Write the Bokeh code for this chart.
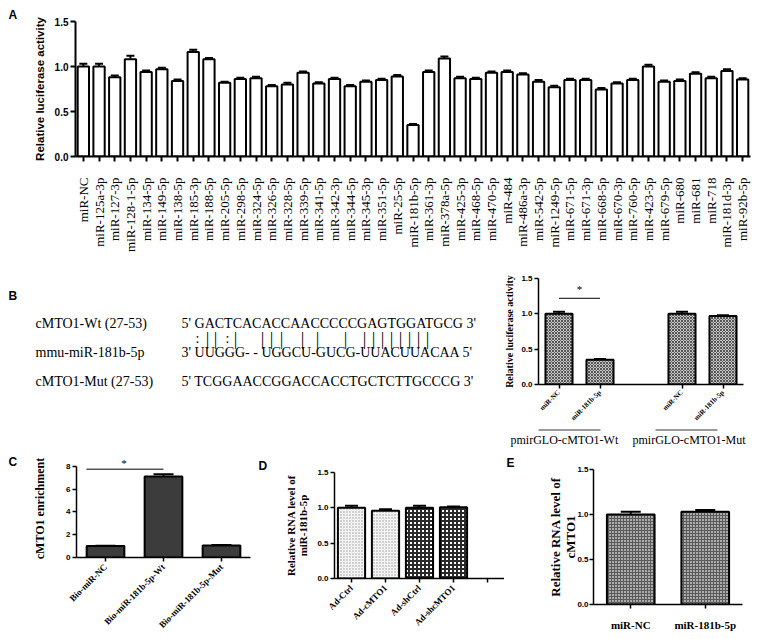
import math
from bokeh.plotting import figure
from bokeh.models import (ColumnDataSource, FactorRange, Range1d, FixedTicker,
                          PrintfTickFormatter, Whisker, TeeHead)
from bokeh.layouts import column, row
from bokeh.embed import file_html
from bokeh.resources import INLINE
from bokeh.core.properties import value
from bokeh.transform import dodge

# ---------------- data ----------------
labels_a = ["miR-NC", "miR-125a-3p", "miR-127-3p", "miR-128-1-5p", "miR-134-5p", "miR-149-5p",
            "miR-138-5p", "miR-185-3p", "miR-188-5p", "miR-205-5p", "miR-298-5p", "miR-324-5p",
            "miR-326-5p", "miR-328-5p", "miR-339-5p", "miR-341-5p", "miR-342-3p", "miR-344-5p",
            "miR-345-3p", "miR-351-5p", "miR-25-5p", "miR-181b-5p", "miR-361-3p", "miR-378a-5p",
            "miR-425-3p", "miR-468-5p", "miR-470-5p", "miR-484", "miR-486a-3p", "miR-542-5p",
            "miR-1249-5p", "miR-671-5p", "miR-671-3p", "miR-668-5p", "miR-670-3p", "miR-760-5p",
            "miR-423-5p", "miR-679-5p", "miR-680", "miR-681", "miR-718", "miR-181d-3p", "miR-92b-5p"]
values_a = [1.00, 1.00, 0.88, 1.08, 0.94, 0.97, 0.84, 1.16, 1.08, 0.82, 0.86, 0.87,
            0.78, 0.80, 0.93, 0.81, 0.86, 0.78, 0.83, 0.85, 0.89, 0.35, 0.94, 1.09,
            0.87, 0.86, 0.93, 0.94, 0.91, 0.83, 0.77, 0.85, 0.85, 0.745, 0.81, 0.85,
            1.00, 0.83, 0.84, 0.92, 0.87, 0.95, 0.855]
errors_a = [0.03, 0.03, 0.02, 0.04, 0.015, 0.015, 0.015, 0.025, 0.015, 0.01, 0.015, 0.015,
            0.015, 0.02, 0.015, 0.015, 0.015, 0.015, 0.015, 0.015, 0.015, 0.01, 0.015, 0.02,
            0.015, 0.015, 0.015, 0.015, 0.015, 0.02, 0.015, 0.015, 0.015, 0.015, 0.015, 0.015,
            0.02, 0.015, 0.015, 0.015, 0.015, 0.02, 0.015]

seq_names = ["cMTO1-Wt (27-53)", "mmu-miR-181b-5p", "cMTO1-Mut (27-53)"]
seq_texts = ["5' GACTCACACCAACCCCCGAGTGGATGCG 3'",
             "3' UUGGG- - UGGCU-GUCG-UUACUUACAA 5'",
             "5' TCGGAACCGGACCACCTGCTCTTGCCCG 3'"]
pair_symbols = [":", "|", "|", ":", "|", "|", "|", "|", "|", "|", "|",
                "|", "|", "|", "|", "|", "|", "|", "|"]

groups_b = ["Wt", "Mut"]
group_names_b = ["pmirGLO-cMTO1-Wt", "pmirGLO-cMTO1-Mut"]
treat_b = ["miR-NC", "miR-181b-5p"]
values_b = [1.00, 0.35, 1.00, 0.97]
errors_b = [0.03, 0.01, 0.03, 0.01]

cats_c = ["Bio-miR-NC", "Bio-miR-181b-5p-Wt", "Bio-miR-181b-5p-Mut"]
values_c = [1.00, 7.10, 1.05]
errors_c = [0.03, 0.20, 0.04]

cats_d = ["Ad-Ctrl", "Ad-cMTO1", "Ad-shCtrl", "Ad-shcMTO1"]
values_d = [1.00, 0.96, 1.00, 1.01]
errors_d = [0.03, 0.02, 0.03, 0.01]

cats_e = ["miR-NC", "miR-181b-5p"]
values_e = [1.00, 1.03]
errors_e = [0.03, 0.02]

# ---------------- layout / style ----------------
SANS = "Liberation Sans"
SERIF = "Liberation Serif"


def mkfig(xr, yr, w, h, l, r, t, b, axes=True, letter=None):
    kw = {}
    if not axes:
        kw = dict(x_axis_type=None, y_axis_type=None)
    if letter is None:
        kw["title"] = None
    p = figure(x_range=xr, y_range=yr, width=w, height=h, output_backend="svg",
               toolbar_location=None, min_border_left=l, min_border_right=r,
               min_border_top=t, min_border_bottom=b, **kw)
    p.grid.visible = False
    p.outline_line_color = None
    if letter is not None:
        p.title.text = letter
        p.title.align = "left"
        p.title.offset = -l
        p.title.standoff = 0
        p.title.text_font = SANS
        p.title.text_font_style = "bold"
        p.title.text_font_size = "12px"
        p.title.text_color = "black"
    return p


def style_axes(p, lw=1.5, tick_out=4):
    for ax in p.xaxis + p.yaxis:
        ax.axis_line_width = lw
        ax.axis_line_color = "black"
        ax.major_tick_line_width = lw
        ax.major_tick_line_color = "black"
        ax.major_tick_in = 0
        ax.major_tick_out = tick_out
        ax.minor_tick_line_color = None
        ax.major_label_text_color = "black"
        ax.axis_label_text_color = "black"


def style_y(p, label, lab_font, lab_style, lab_size, standoff, tick_size, ticks, fmt,
            tick_standoff=2):
    ax = p.yaxis[0]
    ax.ticker = FixedTicker(ticks=ticks)
    ax.formatter = PrintfTickFormatter(format=fmt)
    ax.axis_label = label
    ax.axis_label_text_font = lab_font
    ax.axis_label_text_font_style = lab_style
    ax.axis_label_text_font_size = lab_size
    ax.axis_label_text_line_height = 1.0
    ax.axis_label_standoff = standoff
    ax.major_label_text_font = SANS
    ax.major_label_text_font_style = "bold"
    ax.major_label_text_font_size = tick_size
    ax.major_label_standoff = tick_standoff


def style_x(p, size, style="bold", orient=None, standoff=4):
    ax = p.xaxis[0]
    if orient is not None:
        ax.major_label_orientation = orient
    ax.major_label_text_font = SERIF
    ax.major_label_text_font_style = style
    ax.major_label_text_font_size = size
    ax.major_label_standoff = standoff


def bars_with_err(p, xs, vals, errs, width, head, lw=2, **fill):
    cols = dict(x=xs, top=vals, up=[v + e for v, e in zip(vals, errs)])
    kw = {}
    for k, v in fill.items():
        if isinstance(v, list):
            cols[k] = v
            kw[k] = k
        else:
            kw[k] = v
    src = ColumnDataSource(cols)
    p.vbar(x="x", top="top", width=width, source=src, line_color="black", line_width=lw, **kw)
    p.add_layout(Whisker(base="x", upper="up", lower="top", source=src, line_width=lw,
                         line_color="black", upper_head=TeeHead(size=head, line_width=lw,
                                                                line_color="black"),
                         lower_head=None))
    return src


def txt(p, x, y, text, size, font=SERIF, style="normal", align="left", **kw):
    p.text(x=x, y=y, text=text, text_font=value(font), text_font_style=style,
           text_color="black", text_font_size=size, text_baseline="middle",
           text_align=align, **kw)


# ---------- Panel A ----------
pA = mkfig(FactorRange(factors=labels_a, range_padding=0), Range1d(0, 1.5),
           758, 268, 75, 8, 21, 112, letter="A")
pA.title.offset = -67
bars_with_err(pA, labels_a, values_a, errors_a, 0.72, 8, lw=2, fill_color="white")
style_axes(pA, lw=2, tick_out=5)
style_y(pA, "Relative luciferase activity", SANS, "bold", "11.5px", 6, "10px",
        [0, 0.5, 1.0, 1.5], "%.1f")
style_x(pA, "13px", style="normal", orient=math.pi / 2, standoff=16)

# ---------- Panel B text (coordinates in page pixels) ----------
pBt = mkfig(Range1d(0, 500), Range1d(450, 268), 500, 182, 0, 0, 0, 0, axes=False)
row_y = [323, 352, 381]
txt(pBt, [35] * 3, row_y, seq_names, "14px")
txt(pBt, [181] * 3, row_y, seq_texts, "14px")
pair_x = [197, 207, 215, 227, 235, 262, 271, 281, 302, 317, 345,
          364, 373, 382, 391, 400, 409, 418, 427]
pair_size = ["14px" if s == ":" else "18px" for s in pair_symbols]
pBt.text(x=pair_x, y=[338] * len(pair_x), text=pair_symbols, text_font=value(SERIF),
         text_color="black", text_font_size=pair_size, text_baseline="middle",
         text_align="center")
txt(pBt, [8], [295], ["B"], "12px", font=SANS, style="bold")

# ---------- Panel B chart ----------
factors_b = [(g, t) for g in groups_b for t in treat_b]
xrB = FactorRange(factors=factors_b, group_padding=1.0, range_padding=0)
pB = mkfig(xrB, Range1d(0, 1.5), 258, 160, 38, 15, 10, 44)
bars_with_err(pB, factors_b, values_b, errors_b, 0.66, 12, lw=2,
              fill_color="#c4c4c4", hatch_pattern="diagonal_cross", hatch_color="#3a3a3a",
              hatch_scale=3, hatch_weight=0.8)
style_axes(pB, lw=1.5, tick_out=4)
style_y(pB, "Relative luciferase activity", SERIF, "bold", "10px", 3, "8px",
        [0, 0.5, 1.0, 1.5], "%.1f")
style_x(pB, "7px", orient=math.pi / 4, standoff=3)
pB.xaxis.group_text_font_size = "1px"
pB.xaxis.group_text_color = None
pB.xaxis.separator_line_color = None
sigB = ColumnDataSource(dict(x0=[factors_b[0]], x1=[factors_b[1]], y=[1.22]))
pB.segment(x0="x0", y0="y", x1="x1", y1="y", source=sigB, line_color="black", line_width=1)
txt(pB, ["Wt"], [1.35], ["*"], "11px", align="center")

# group captions under panel B chart (page-pixel coordinates)
pBg = mkfig(Range1d(500, 758), Range1d(450, 428), 258, 22, 0, 0, 0, 0, axes=False)
pBg.segment(x0=[538, 655], y0=[429.5, 429.5], x1=[600, 717], y1=[429.5, 429.5],
            line_color="#9a9a9a", line_width=2)
txt(pBg, [510, 632], [439, 439], group_names_b, "12px", align="left")

# ---------- Panel C ----------
letC = mkfig(Range1d(0, 20), Range1d(639, 450), 20, 189, 0, 0, 0, 0, axes=False)
txt(letC, [8], [461], ["C"], "12px", font=SANS, style="bold")

pC = mkfig(FactorRange(factors=cats_c, range_padding=0), Range1d(0, 8.6), 238, 189, 56, 8, 9, 82)
bars_with_err(pC, cats_c, values_c, errors_c, 0.65, 20, lw=2, fill_color="#3c3c3c")
style_axes(pC, lw=1.5, tick_out=4)
style_y(pC, "cMTO1 enrichment", SERIF, "bold", "12px", 16, "8px", [0, 2, 4, 6, 8], "%d")
pC.yaxis.bounds = (0, 8)
style_x(pC, "9px", orient=math.pi / 4, standoff=4)
sigC = ColumnDataSource(dict(x0=[cats_c[0]], x1=[cats_c[1]], y=[7.75], ys=[8.3]))
pC.segment(x0=dodge("x0", -0.33, range=pC.x_range), y0="y", x1="x1", y1="y", source=sigC,
           line_color="black", line_width=1)
pC.text(x=dodge("x1", -0.68, range=pC.x_range), y="ys", source=sigC, text=value("*"),
        text_font=value(SERIF), text_font_size="11px", text_color="black",
        text_baseline="middle", text_align="center")

# ---------- Panel D ----------
xrD = FactorRange(factors=cats_d + [" "], range_padding=0)
pD = mkfig(xrD, Range1d(0, 1.5), 246, 189, 76, 0, 22, 61, letter="D")
bars_with_err(pD, cats_d, values_d, errors_d, 0.8, 13, lw=2,
              fill_color=["#f4f4f4", "#f4f4f4", "white", "white"],
              hatch_pattern=["dot", "dot", "cross", "cross"],
              hatch_color=["#9a9a9a", "#9a9a9a", "#2a2a2a", "#2a2a2a"],
              hatch_scale=[3, 3, 4, 4], hatch_weight=[1, 1, 2, 2])
style_axes(pD, lw=1.5, tick_out=4)
style_y(pD, "Relative RNA level of\nmiR-181b-5p", SERIF, "bold", "11px", 5, "8px",
        [0, 0.5, 1.0, 1.5], "%.1f")
style_x(pD, "9px", orient=math.pi / 4, standoff=4)

# ---------- Panel E ----------
pE = mkfig(FactorRange(factors=cats_e, range_padding=0), Range1d(0, 1.5), 254, 189, 89, 16, 19, 35,
           letter="E")
pE.title.offset = -87
bars_with_err(pE, cats_e, values_e, errors_e, 0.64, 20, lw=2,
              fill_color="#ababab", hatch_pattern="cross", hatch_color="#5a5a5a",
              hatch_scale=3, hatch_weight=1)
style_axes(pE, lw=1.5, tick_out=4)
style_y(pE, "Relative RNA level of\ncMTO1", SERIF, "bold", "13px", -4, "8px",
        [0, 0.5, 1.0, 1.5], "%.1f", tick_standoff=1)
style_x(pE, "11px", standoff=10)

layout = column(pA,
                row(pBt, column(column(pB), column(pBg))),
                row(column(letC), column(pC), column(pD), column(pE)))

open("out.html", "w").write(file_html(layout, INLINE))
